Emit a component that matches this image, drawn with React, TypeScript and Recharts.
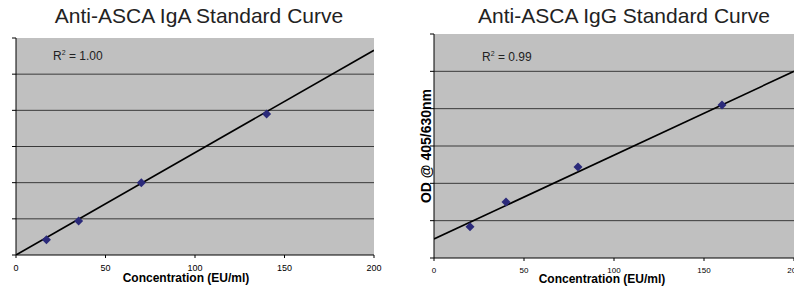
import React from "react";
import {
  ComposedChart,
  Scatter,
  XAxis,
  YAxis,
  CartesianGrid,
} from "recharts";

// concentration (EU/ml) and optical density
const igaConc = [17, 35, 70, 140];
const igaOd = [0.21, 0.47, 1.0, 1.95];
const igaFitConc = [0, 200];
const igaFitOd = [0, 2.83];

const iggConc = [20, 40, 80, 160];
const iggOd = [0.42, 0.75, 1.22, 2.05];
const iggFitConc = [0, 200];
const iggFitOd = [0.255, 2.5];

const xTicks = [0, 50, 100, 150, 200];
const yTicks = [0, 0.5, 1, 1.5, 2, 2.5, 3];
const gridLines = [0.5, 1, 1.5, 2, 2.5];

const toPoints = (xs: number[], ys: number[]) =>
  xs.map((x, i) => ({ x, y: ys[i] }));

const FONT = "'Liberation Sans', Arial, sans-serif";

const Diamond = (props: any) => {
  const { cx, cy } = props;
  if (cx == null || cy == null) return null;
  const r = 4.5;
  return (
    <path
      d={`M${cx},${cy - r}L${cx + r},${cy}L${cx},${cy + r}L${cx - r},${cy}Z`}
      fill="#2B2A7A"
    />
  );
};

// centred tick text, no edge nudging (the last label runs off the page)
const makeTick = (size: number) => (props: any) => {
  const { x, y, payload } = props;
  return (
    <text
      x={x}
      y={y + size + 2}
      textAnchor="middle"
      fontSize={size}
      fill="#000"
      fontFamily={FONT}
    >
      {payload.value}
    </text>
  );
};

interface CurveProps {
  width: number;
  margin: { top: number; right: number; left: number; bottom: number };
  yAxisWidth: number;
  xAxisHeight: number;
  tickFont: number;
  points: { x: number; y: number }[];
  fit: { x: number; y: number }[];
  title: string;
  titleX: number;
  r2: string;
  r2X: number;
  r2Y: number;
  xLabelX: number;
  xLabelY: number;
  yLabel?: { x: number; y: number };
}

function Curve(p: CurveProps) {
  return (
    <ComposedChart
      width={p.width}
      height={293}
      margin={p.margin}
      style={{ overflow: "visible" }}
    >
      <CartesianGrid
        fill="#C0C0C0"
        fillOpacity={1}
        stroke="#3a3a3a"
        vertical={false}
        horizontalValues={gridLines}
      />
      <XAxis
        type="number"
        dataKey="x"
        domain={[0, 200]}
        ticks={xTicks}
        height={p.xAxisHeight}
        stroke="#000"
        tickSize={3}
        tickMargin={2}
        tick={makeTick(p.tickFont)}
        interval={0}
        allowDataOverflow
      />
      <YAxis
        type="number"
        dataKey="y"
        domain={[0, 3]}
        ticks={yTicks}
        width={p.yAxisWidth}
        stroke="#000"
        tickSize={4}
        tickFormatter={() => ""}
        allowDataOverflow
      />
      <Scatter
        data={p.fit}
        line={{ stroke: "#000", strokeWidth: 1.6 }}
        shape={() => null}
        isAnimationActive={false}
      />
      <Scatter data={p.points} shape={Diamond} isAnimationActive={false} />
      <text
        x={p.titleX}
        y={23}
        textAnchor="middle"
        fontSize={21}
        fill="#222"
        fontFamily={FONT}
      >
        {p.title}
      </text>
      <text x={p.r2X} y={p.r2Y} fontSize={12} fill="#222" fontFamily={FONT}>
        R
        <tspan fontSize={7} dy={-5}>
          2
        </tspan>
        <tspan dy={5}> = {p.r2}</tspan>
      </text>
      <text
        x={p.xLabelX}
        y={p.xLabelY}
        textAnchor="middle"
        fontSize={12}
        fontWeight="bold"
        fill="#000"
        fontFamily={FONT}
      >
        Concentration (EU/ml)
      </text>
      {p.yLabel && (
        <text
          x={p.yLabel.x}
          y={p.yLabel.y}
          transform={`rotate(-90, ${p.yLabel.x}, ${p.yLabel.y})`}
          textAnchor="middle"
          fontSize={14}
          fontWeight="bold"
          fill="#000"
          fontFamily={FONT}
        >
          OD @ 405/630nm
        </text>
      )}
    </ComposedChart>
  );
}

export default function App() {
  return (
    <div
      style={{
        position: "absolute",
        left: 0,
        top: 0,
        width: 794,
        height: 293,
        background: "#fff",
        display: "flex",
        fontFamily: FONT,
        overflow: "hidden",
      }}
    >
      <Curve
        width={400}
        margin={{ top: 38, right: 26, left: 0, bottom: 0 }}
        yAxisWidth={16}
        xAxisHeight={38}
        tickFont={9}
        points={toPoints(igaConc, igaOd)}
        fit={toPoints(igaFitConc, igaFitOd)}
        title="Anti-ASCA IgA Standard Curve"
        titleX={199}
        r2="1.00"
        r2X={53}
        r2Y={60}
        xLabelX={186}
        xLabelY={282}
      />
      <Curve
        width={394}
        margin={{ top: 34, right: 0, left: 0, bottom: 0 }}
        yAxisWidth={34}
        xAxisHeight={35}
        tickFont={8}
        points={toPoints(iggConc, iggOd)}
        fit={toPoints(iggFitConc, iggFitOd)}
        title="Anti-ASCA IgG Standard Curve"
        titleX={224}
        r2="0.99"
        r2X={82}
        r2Y={61}
        xLabelX={202}
        xLabelY={283}
        yLabel={{ x: 31, y: 146 }}
      />
    </div>
  );
}
